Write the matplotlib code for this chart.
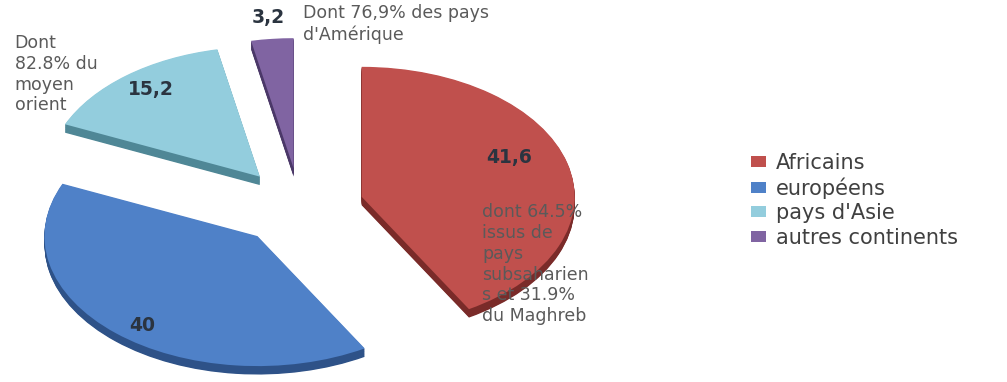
import numpy as np
import matplotlib
matplotlib.use("Agg")
import matplotlib.pyplot as plt

# share of foreign residents by origin (%)
categories = ["Africains", "européens", "pays d'Asie", "autres continents"]
values = [41.6, 40.0, 15.2, 3.2]
value_labels = ["41,6", "40", "15,2", "3,2"]

notes = [
    "dont 64.5%\nissus de\npays\nsubsaharien\ns et 31.9%\ndu Maghreb",
    None,
    "Dont\n82.8% du\nmoyen\norient",
    "Dont 76,9% des pays\nd'Amérique",
]

top_colors = ["#c0504d", "#4f81c8", "#93cddd", "#8064a2"]
side_colors = ["#7a2b29", "#2e5288", "#4f8796", "#4b3868"]
explode = [0.3, 0.3, 0.3, 0.3]

# where the value labels and the notes sit (pie units)
value_pos = [(0.98, 0.38), (-0.74, -0.91), (-0.70, 0.90), (-0.15, 1.46)]
note_pos = [(0.855, 0.03), None, (-1.34, 1.33), (0.012, 1.56)]

fig = plt.figure(figsize=(10.07, 3.82), dpi=100)
ax = fig.add_axes([0, 0, 1, 1])

# thickness of the tilted pie: stacked darker copies shifted down
depth = 0.065
for i in range(12, 0, -1):
    ax.pie(values, colors=side_colors, explode=explode, startangle=90,
           counterclock=False, center=(0, -depth * i / 12), radius=1,
           wedgeprops=dict(linewidth=0))

wedges, _ = ax.pie(values, colors=top_colors, explode=explode, startangle=90,
                   counterclock=False, center=(0, 0), radius=1,
                   wedgeprops=dict(linewidth=0))

for lab, (x, y) in zip(value_labels, value_pos):
    ax.text(x, y, lab, ha="center", va="center", fontsize=13.5,
            fontweight="bold", color="#2b3440")

for note, pos in zip(notes, note_pos):
    if note is None:
        continue
    ax.text(pos[0], pos[1], note, ha="left", va="top", fontsize=12.5,
            color="#5a5a5a", linespacing=1.2)

ax.set_aspect("auto")
ax.set_xlim(-300 / 213, 707 / 213)
ax.set_ylim(-175 / 130, 207 / 130)
ax.axis("off")

ax.legend(wedges, categories, loc="center left", bbox_to_anchor=(0.727, 0.476),
          frameon=False, fontsize=15, handlelength=0.75, handleheight=0.45,
          handletextpad=0.45, labelspacing=0.22, labelcolor="#404040")

fig.savefig("out.png", dpi=100)
